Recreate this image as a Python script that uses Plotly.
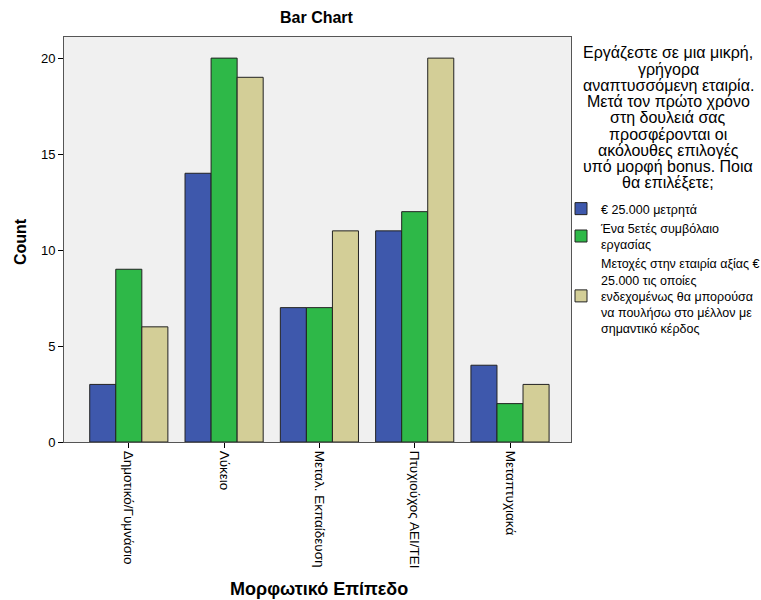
import plotly.graph_objects as go

categories = ["Δημοτικό/Γυμνάσιο", "Λύκειο", "Μεταλ. Εκπαίδευση", "Πτυχιούχος ΑΕΙ/ΤΕΙ", "Μεταπτυχιακά"]
series_names = [
    "€ 25.000 μετρητά",
    "Ένα 5ετές συμβόλαιο<br>εργασίας",
    "Μετοχές στην εταιρία αξίας €<br>25.000 τις οποίες<br>ενδεχομένως θα μπορούσα<br>να πουλήσω στο μέλλον με<br>σημαντικό κέρδος",
]
cash = [3, 14, 7, 11, 4]
contract = [9, 20, 7, 12, 2]
shares = [6, 19, 11, 20, 3]
colors = ["#3E58AC", "#2EB848", "#D3CE97"]

legend_title_lines = [
    "Εργάζεστε σε μια μικρή,",
    "γρήγορα",
    "αναπτυσσόμενη εταιρία.",
    "Μετά τον πρώτο χρόνο",
    "στη δουλειά σας",
    "προσφέρονται οι",
    "ακόλουθες επιλογές",
    "υπό μορφή bonus. Ποια",
    "θα επιλέξετε;",
]

W, H = 761, 600
L, R, T, B = 64, 571, 37, 442

fig = go.Figure()
for name, vals, c in zip(series_names, [cash, contract, shares], colors):
    fig.add_trace(go.Bar(x=categories, y=vals, name=name,
                         marker=dict(color=c, line=dict(color="#222222", width=1))))

font_family = "Liberation Sans, Arial, sans-serif"

def px_x(p):
    return (p - L) / (R - L)

def px_y(p):
    return (B - p) / (B - T)

annotations = [
    dict(text="<b>Bar Chart</b>", xref="paper", yref="paper", x=px_x(317), y=px_y(18),
         xanchor="center", yanchor="middle", showarrow=False, font=dict(size=16)),
    dict(text="<b>Μορφωτικό Επίπεδο</b>", xref="paper", yref="paper", x=px_x(319), y=px_y(589),
         xanchor="center", yanchor="middle", showarrow=False, font=dict(size=18)),
    dict(text="<b>Count</b>", xref="paper", yref="paper", x=px_x(20), y=px_y(242),
         xanchor="center", yanchor="middle", showarrow=False, textangle=-90, font=dict(size=16)),
]
for i, line in enumerate(legend_title_lines):
    annotations.append(dict(
        text=line, xref="paper", yref="paper", x=px_x(668), y=px_y(53 + 16.2 * i),
        xanchor="center", yanchor="middle", showarrow=False,
        font=dict(size=16, family=font_family)))

fig.update_layout(
    width=W, height=H,
    barmode="group", bargap=0.18, bargroupgap=0,
    paper_bgcolor="white", plot_bgcolor="#F0F0F0",
    margin=dict(l=L, r=W - R, t=T, b=H - B, autoexpand=False),
    font=dict(family=font_family, size=11, color="black"),
    showlegend=True,
    legend=dict(
        x=px_x(561), xanchor="left", y=px_y(194), yanchor="top",
        font=dict(size=12.5, family=font_family), bgcolor="rgba(0,0,0,0)",
        itemwidth=30, tracegroupgap=0,
    ),
    xaxis=dict(
        range=[-0.68, 4.64], automargin=False,
        tickangle=90, ticks="outside", ticklen=5, tickcolor="black",
        showline=True, linecolor="#555555", mirror=True, showgrid=False,
        tickfont=dict(size=13.5),
    ),
    yaxis=dict(
        range=[0, 21.1], tickvals=[0, 5, 10, 15, 20], automargin=False,
        ticks="outside", ticklen=5, tickcolor="black",
        showline=True, linecolor="#555555", mirror=True, showgrid=False, zeroline=False,
        tickfont=dict(size=13),
    ),
    annotations=annotations,
)

fig.write_html("out.html", config={"displayModeBar": False},
               post_script="document.body.style.margin='0px';")
